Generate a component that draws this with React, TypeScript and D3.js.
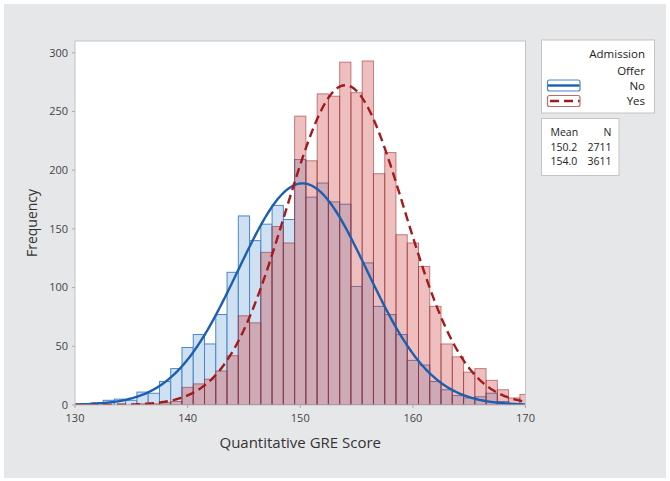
import React from "react";
import * as d3 from "d3";

const scores: number[] = d3.range(130, 171);
const noCounts: number[] = [
  1, 1, 2, 4, 5, 4, 11, 10, 20, 31,
  49, 60, 52, 77, 113, 161, 140, 154, 170, 158,
  209, 177, 189, 173, 171, 101, 121, 84, 77, 60,
  38, 34, 20, 13, 8, 6, 7, 10, 3, 1,
  0,
];
const yesCounts: number[] = [
  0, 0, 0, 0, 0, 0, 1, 1, 2, 3,
  15, 18, 22, 29, 42, 76, 70, 130, 152, 138,
  246, 208, 265, 263, 292, 266, 293, 197, 215, 145,
  138, 118, 84, 52, 41, 28, 31, 21, 13, 6,
  9,
];
const groups = ["No", "Yes"];
const means = [150.2, 154.0];
const ns = [2711, 3611];
const stdevs = [5.73, 5.29];
const xTicks = [130, 140, 150, 160, 170];
const yTicks = [0, 50, 100, 150, 200, 250, 300];

const W = 670;
const H = 481;
const FONT = "'Open Sans', 'Noto Sans', sans-serif";

export default function App() {
  const left = 75, right = 525.5, top = 41, bottom = 405;
  const x = d3.scaleLinear().domain([130, 170]).range([left, right]);
  const y = d3.scaleLinear().domain([0, 310]).range([bottom, top]);
  const bw = x(131) - x(130);

  const normal = (i: number) => {
    const pts = d3.range(130, 170.01, 0.1).map((v) => {
      const z = (v - means[i]) / stdevs[i];
      const f = (ns[i] / (stdevs[i] * Math.sqrt(2 * Math.PI))) * Math.exp(-0.5 * z * z);
      return [v, f] as [number, number];
    });
    return d3.line<[number, number]>().x((d) => x(d[0])).y((d) => y(d[1]))(pts) || "";
  };

  return (
    <div style={{ position: "absolute", left: 0, top: 0 }}>
      <svg width={W} height={H} style={{ display: "block", fontFamily: FONT }}>
        <rect x={0} y={0} width={W} height={H} fill="#ffffff" />
        <rect x={4} y={4} width={662} height={474} fill="#e6e7e9" />
        <defs>
          <clipPath id="plotclip">
            <rect x={left} y={top} width={right - left} height={bottom - top} />
          </clipPath>
        </defs>
        <rect x={left} y={top} width={right - left} height={bottom - top} fill="#ffffff" />
        <g clipPath="url(#plotclip)">
          {scores.map((s, i) => (
            <rect
              key={"b" + s}
              x={x(s - 0.5)}
              y={y(noCounts[i])}
              width={bw}
              height={bottom - y(noCounts[i])}
              fill="#cfe0f2"
              stroke="#4a86c8"
              strokeWidth={1}
            />
          ))}
          {scores.map((s, i) => (
            <rect
              key={"r" + s}
              x={x(s - 0.5)}
              y={y(yesCounts[i])}
              width={bw}
              height={bottom - y(yesCounts[i])}
              fill="rgba(205,55,55,0.32)"
              stroke="rgba(150,40,40,0.55)"
              strokeWidth={1}
            />
          ))}
          <path d={normal(0)} fill="none" stroke="#1a5fb0" strokeWidth={2.4} />
          <path d={normal(1)} fill="none" stroke="#a3191c" strokeWidth={2.4} strokeDasharray="9,5" />
        </g>
        <rect x={left} y={top} width={right - left} height={bottom - top} fill="none" stroke="#c4c4c4" strokeWidth={1} />
        {yTicks.map((t) => (
          <g key={"yt" + t}>
            <line x1={left - 3} x2={left} y1={y(t)} y2={y(t)} stroke="#aaaaaa" />
            <text x={left - 7} y={y(t)} dy="0.35em" textAnchor="end" fontSize={11} fill="#444">
              {t}
            </text>
          </g>
        ))}
        {xTicks.map((t) => (
          <g key={"xt" + t}>
            <line x1={x(t)} x2={x(t)} y1={bottom} y2={bottom + 3} stroke="#aaaaaa" />
            <text x={x(t)} y={bottom + 17} textAnchor="middle" fontSize={11} fill="#444">
              {t}
            </text>
          </g>
        ))}
        <text x={(left + right) / 2} y={448} textAnchor="middle" fontSize={15} fill="#333">
          Quantitative GRE Score
        </text>
        <text
          transform={`translate(37, ${(top + bottom) / 2}) rotate(-90)`}
          textAnchor="middle"
          fontSize={14}
          fill="#333"
        >
          Frequency
        </text>
        {/* Legend */}
        <rect x={541.5} y={40} width={113} height={73} fill="#ffffff" stroke="#c4c4c4" />
        <text x={645} y={58} textAnchor="end" fontSize={11.5} fill="#222">Admission</text>
        <text x={645} y={74.5} textAnchor="end" fontSize={11.5} fill="#222">Offer</text>
        {groups.map((g, i) => {
          const cy = 85.5 + i * 15.5;
          const col = i === 0 ? "#1a5fb0" : "#a3191c";
          const edge = i === 0 ? "#4a86c8" : "#c46a6a";
          return (
            <g key={"lg" + g}>
              <rect x={547.5} y={cy - 5.5} width={32.5} height={11} rx={2} fill="#ffffff" stroke={edge} strokeWidth={1.2} />
              <line x1={548} x2={579.5} y1={cy} y2={cy} stroke={col} strokeWidth={2.4} strokeDasharray={i === 0 ? undefined : "9,5"} strokeDashoffset={i === 0 ? 0 : -2} />
              <text x={645} y={cy} dy="0.35em" textAnchor="end" fontSize={11.5} fill="#222">{g}</text>
            </g>
          );
        })}
        <rect x={541.5} y={118.5} width={77.5} height={57} fill="#ffffff" stroke="#c4c4c4" />
        <text x={550.5} y={136} fontSize={10.5} fill="#222">Mean</text>
        <text x={611.5} y={136} textAnchor="end" fontSize={10.5} fill="#222">N</text>
        {groups.map((g, i) => (
          <g key={"st" + g}>
            <text x={550.5} y={150.5 + i * 14.5} fontSize={10.5} fill="#222">{means[i].toFixed(1)}</text>
            <text x={611.5} y={150.5 + i * 14.5} textAnchor="end" fontSize={10.5} fill="#222">{ns[i]}</text>
          </g>
        ))}
      </svg>
    </div>
  );
}
